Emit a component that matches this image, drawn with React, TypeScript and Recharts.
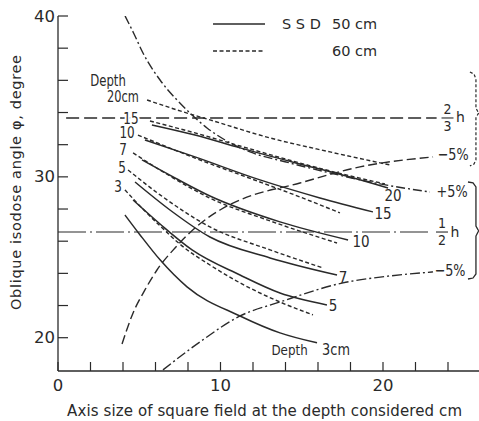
import React from 'react';
import { LineChart, Line, XAxis, YAxis, ReferenceLine, ReferenceDot } from 'recharts';

type P = { x: number; y: number };

// ---- Axis ticks ----
const xTicks = [0, 2, 4, 6, 8, 10, 12, 14, 16, 18, 20, 22, 24];
const xLabelled = [0, 10, 20];
const yTicks = [20, 22, 24, 26, 28, 30, 32, 34, 36, 38, 40];
const yLabelled = [20, 30, 40];

// ---- SSD 50 cm (solid) ----
const ssd50Depth20: P[] = [{ x: 5.78, y: 33.23 }, { x: 8.43, y: 32.6 }, { x: 11.2, y: 31.8 }, { x: 14.89, y: 30.8 }, { x: 17.97, y: 29.99 }, { x: 20.31, y: 29.31 }];
const ssd50Depth15: P[] = [{ x: 5.35, y: 32.29 }, { x: 8.43, y: 31.24 }, { x: 12.43, y: 29.81 }, { x: 16.12, y: 28.69 }, { x: 19.38, y: 27.82 }];
const ssd50Depth10: P[] = [{ x: 5.17, y: 31.05 }, { x: 7.2, y: 29.93 }, { x: 9.35, y: 28.81 }, { x: 13.66, y: 27.2 }, { x: 17.85, y: 26.08 }];
const ssd50Depth7: P[] = [{ x: 4.74, y: 29.68 }, { x: 6.89, y: 27.94 }, { x: 9.35, y: 26.26 }, { x: 13.05, y: 24.96 }, { x: 17.17, y: 23.9 }];
const ssd50Depth5: P[] = [{ x: 4.62, y: 28.56 }, { x: 6.28, y: 27.07 }, { x: 8.25, y: 25.46 }, { x: 11.2, y: 23.9 }, { x: 13.66, y: 22.78 }, { x: 16.55, y: 22.04 }];
const ssd50Depth3: P[] = [{ x: 4.12, y: 27.63 }, { x: 5.05, y: 26.39 }, { x: 6.28, y: 24.84 }, { x: 7.94, y: 23.16 }, { x: 11.2, y: 21.35 }, { x: 13.66, y: 20.3 }, { x: 15.94, y: 19.68 }];

// ---- SSD 60 cm (dashed) ----
const ssd60Depth20: P[] = [{ x: 5.48, y: 34.78 }, { x: 7.51, y: 34.1 }, { x: 9.35, y: 33.54 }, { x: 13.05, y: 32.42 }, { x: 16.74, y: 31.55 }, { x: 20.43, y: 30.74 }];
const ssd60Depth15: P[] = [{ x: 5.66, y: 33.47 }, { x: 8.43, y: 32.73 }, { x: 11.2, y: 31.92 }, { x: 14.89, y: 30.86 }, { x: 17.97, y: 30.06 }, { x: 20.12, y: 29.56 }];
const ssd60Depth10: P[] = [{ x: 4.92, y: 32.6 }, { x: 8.43, y: 31.17 }, { x: 12.43, y: 29.68 }, { x: 14.89, y: 28.75 }, { x: 17.35, y: 27.76 }];
const ssd60Depth7: P[] = [{ x: 4.62, y: 31.49 }, { x: 6.89, y: 30.05 }, { x: 9.35, y: 28.68 }, { x: 13.05, y: 27.26 }, { x: 17.17, y: 25.89 }];
const ssd60Depth5: P[] = [{ x: 4.31, y: 30.43 }, { x: 6.28, y: 28.88 }, { x: 9.35, y: 26.89 }, { x: 13.05, y: 25.46 }, { x: 16.31, y: 24.34 }];
const ssd60Depth3: P[] = [{ x: 4.12, y: 29.19 }, { x: 4.92, y: 28.32 }, { x: 6.28, y: 26.95 }, { x: 7.63, y: 25.71 }, { x: 9.35, y: 24.52 }, { x: 11.2, y: 23.41 }, { x: 13.66, y: 22.22 }, { x: 15.69, y: 21.42 }];

// ---- tolerance curves ----
const twoThirdsPlus5: P[] = [{ x: 4.13, y: 40.0 }, { x: 4.68, y: 38.88 }, { x: 5.23, y: 37.7 }, { x: 6.28, y: 36.02 }, { x: 7.32, y: 34.78 }, { x: 8.12, y: 33.97 }, { x: 9.17, y: 33.04 }, { x: 10.28, y: 32.29 }, { x: 11.82, y: 31.55 }, { x: 14.28, y: 30.86 }, { x: 16.74, y: 30.24 }, { x: 19.82, y: 29.56 }, { x: 22.89, y: 29.06 }];
const twoThirdsMinus5: P[] = [{ x: 3.94, y: 19.61 }, { x: 4.62, y: 21.54 }, { x: 5.35, y: 22.97 }, { x: 6.09, y: 24.21 }, { x: 7.2, y: 25.58 }, { x: 8.43, y: 26.82 }, { x: 9.97, y: 27.94 }, { x: 11.2, y: 28.56 }, { x: 14.89, y: 29.62 }, { x: 18.58, y: 30.62 }, { x: 23.08, y: 31.24 }];
const halfMinus5: P[] = [{ x: 6.46, y: 18.0 }, { x: 8.74, y: 19.74 }, { x: 11.2, y: 21.35 }, { x: 13.66, y: 22.22 }, { x: 17.54, y: 23.41 }, { x: 20.43, y: 23.84 }, { x: 23.08, y: 24.09 }];

// ---- reference levels ----
const twoThirdsLevel = 33.66;
const twoThirdsRange = [0.5, 23.3];
const halfLevel = 26.57;
const halfRange = [0, 23.0];

// ---- braces ----
const braceUpper: P[] = [{ x: 25.35, y: 36.52 }, { x: 25.6, y: 36.39 }, { x: 25.72, y: 36.08 }, { x: 25.72, y: 34.28 }, { x: 25.85, y: 34.03 }, { x: 25.91, y: 33.97 }, { x: 25.85, y: 33.91 }, { x: 25.72, y: 33.66 }, { x: 25.72, y: 31.05 }, { x: 25.6, y: 30.8 }, { x: 25.35, y: 30.68 }];
const braceLower: P[] = [{ x: 25.23, y: 29.68 }, { x: 25.54, y: 29.62 }, { x: 25.72, y: 29.37 }, { x: 25.72, y: 26.94 }, { x: 25.85, y: 26.7 }, { x: 25.91, y: 26.64 }, { x: 25.85, y: 26.58 }, { x: 25.72, y: 26.32 }, { x: 25.72, y: 23.96 }, { x: 25.54, y: 23.71 }, { x: 25.23, y: 23.65 }];

// ---- legend ----
const legendX = [9.54, 12.74];
const legendSolidY = 39.5;
const legendDashedY = 37.82;

// ---- text annotations ----
type Ann = { x: number; y: number; text: string; size: number; sx?: number; anchor?: string; halo?: boolean; rotate?: number; len?: number };
const leftLabels: Ann[] = [
  { x: 3.08, y: 35.96, text: 'Depth', size: 15, sx: 0.78 },
  { x: 4.0, y: 34.96, text: '20cm', size: 15, sx: 0.76 },
  { x: 4.49, y: 33.66, text: '15', size: 15, sx: 0.8, halo: true },
  { x: 4.25, y: 32.73, text: '10', size: 15, sx: 0.8 },
  { x: 4.0, y: 31.73, text: '7', size: 15, sx: 0.8 },
  { x: 3.94, y: 30.61, text: '5', size: 15, sx: 0.8 },
  { x: 3.69, y: 29.43, text: '3', size: 15, sx: 0.8 },
];
const rightLabels: Ann[] = [
  { x: 20.62, y: 28.81, text: '20', size: 16.5, sx: 0.82 },
  { x: 20.0, y: 27.69, text: '15', size: 16.5, sx: 0.82 },
  { x: 18.65, y: 25.95, text: '10', size: 16.5, sx: 0.82 },
  { x: 17.54, y: 23.77, text: '7', size: 16.5, sx: 0.82 },
  { x: 16.92, y: 21.97, text: '5', size: 16.5, sx: 0.82 },
  { x: 14.25, y: 19.23, text: 'Depth', size: 14.5, sx: 0.82 },
  { x: 17.11, y: 19.23, text: '3cm', size: 15, sx: 0.86 },
];
const percentLabels: Ann[] = [
  { x: 24.31, y: 31.36, text: '\u22125%', size: 16, sx: 0.8 },
  { x: 24.25, y: 29.06, text: '+5%', size: 16, sx: 0.8 },
  { x: 24.12, y: 24.21, text: '\u22125%', size: 16, sx: 0.8 },
];
const legendLabels: Ann[] = [
  { x: 14.98, y: 39.5, text: 'S S D', size: 14.5 },
  { x: 18.25, y: 39.5, text: '50 cm', size: 14.5 },
  { x: 18.25, y: 37.82, text: '60 cm', size: 14.5 },
];
const titles: Ann[] = [
  { x: -2.58, y: 29.65, text: 'Oblique isodose angle \u03C6, degree', size: 14.5, rotate: -90, len: 255 },
  { x: 12.71, y: 15.44, text: 'Axis size of square field at the depth considered cm', size: 15, len: 395 },
];
const fractions = [
  { x: 23.97, y: 33.66, num: '2', den: '3' },
  { x: 23.63, y: 26.57, num: '1', den: '2' },
];

const INK = '#2a2a2a';
const FONT = "'DejaVu Sans', 'Liberation Sans', sans-serif";

function center(props: any) {
  const vb = props.viewBox || { x: 0, y: 0, width: 0, height: 0 };
  return { cx: vb.x + (vb.width || 0) / 2, cy: vb.y + (vb.height || 0) / 2 };
}

const renderText = (a: Ann) => (props: any) => {
  const { cx, cy } = center(props);
  const sx = a.sx ?? 1;
  const rot = a.rotate ?? 0;
  return (
    <text
      transform={`translate(${cx},${cy}) rotate(${rot}) scale(${sx},1)`}
      x={0}
      y={0}
      textAnchor={(a.anchor as any) ?? 'middle'}
      dominantBaseline="central"
      fontSize={a.size}
      fontFamily={FONT}
      fill={INK}
      stroke={a.halo ? '#fff' : 'none'}
      strokeWidth={a.halo ? 5 : 0}
      paintOrder="stroke"
      textLength={a.len}
      lengthAdjust={a.len ? 'spacing' : undefined}
    >
      {a.text}
    </text>
  );
};

const renderFraction = (num: string, den: string) => (props: any) => {
  const { cx, cy } = center(props);
  return (
    <g fill={INK} fontFamily={FONT} fontSize={14}>
      <text x={cx} y={cy - 8.5} textAnchor="middle" dominantBaseline="central" transform={`translate(${cx * 0.1},0) scale(0.9,1)`}>{num}</text>
      <line x1={cx - 6} x2={cx + 6} y1={cy} y2={cy} stroke={INK} strokeWidth={1.1} />
      <text x={cx} y={cy + 8} textAnchor="middle" dominantBaseline="central" transform={`translate(${cx * 0.1},0) scale(0.9,1)`}>{den}</text>
      <text x={cx + 13} y={cy - 0.5} textAnchor="middle" dominantBaseline="central">h</text>
    </g>
  );
};

function XTick(props: any) {
  const { x, y, payload } = props;
  const v = payload.value;
  return (
    <g>
      <line x1={x} y1={y} x2={x} y2={y - 9} stroke={INK} strokeWidth={1.2} />
      {xLabelled.includes(v) && (
        <text x={x} y={y + 14} textAnchor="middle" dominantBaseline="central" fontSize={16.5} fontFamily={FONT} fill={INK}>
          {v}
        </text>
      )}
    </g>
  );
}

function YTick(props: any) {
  const { x, y, payload } = props;
  const v = payload.value;
  return (
    <g>
      <line x1={x} y1={y} x2={x + 10} y2={y} stroke={INK} strokeWidth={1.2} />
      {yLabelled.includes(v) && (
        <text x={x - 3} y={y} textAnchor="end" dominantBaseline="central" fontSize={16.5} fontFamily={FONT} fill={INK}>
          {v}
        </text>
      )}
    </g>
  );
}

const solidSeries = [ssd50Depth20, ssd50Depth15, ssd50Depth10, ssd50Depth7, ssd50Depth5, ssd50Depth3];
const dashedSeries = [ssd60Depth20, ssd60Depth15, ssd60Depth10, ssd60Depth7, ssd60Depth5, ssd60Depth3];

export default function App() {
  const allTexts = [...leftLabels, ...rightLabels, ...percentLabels, ...legendLabels, ...titles];
  return (
    <div style={{ position: 'absolute', left: 0, top: 0, background: '#fff' }}>
      <LineChart width={479} height={421} margin={{ top: 16, right: 0, bottom: 0, left: 0 }}>
        <XAxis
          type="number"
          dataKey="x"
          domain={[0, 25.908]}
          allowDataOverflow
          ticks={xTicks}
          interval={0}
          tickLine={false}
          tickSize={0}
          tickMargin={0}
          tick={<XTick />}
          axisLine={{ stroke: INK, strokeWidth: 1.3 }}
          height={50}
        />
        <YAxis
          type="number"
          dataKey="y"
          domain={[17.93, 40]}
          allowDataOverflow
          ticks={yTicks}
          interval={0}
          tickLine={false}
          tickSize={0}
          tickMargin={0}
          tick={<YTick />}
          axisLine={{ stroke: INK, strokeWidth: 1.3 }}
          width={58}
        />
        <ReferenceLine
          segment={[{ x: twoThirdsRange[0], y: twoThirdsLevel }, { x: twoThirdsRange[1], y: twoThirdsLevel }]}
          stroke={INK}
          strokeWidth={1.3}
          strokeDasharray="13 5"
        />
        <ReferenceLine
          segment={[{ x: halfRange[0], y: halfLevel }, { x: halfRange[1], y: halfLevel }]}
          stroke={INK}
          strokeWidth={1.2}
          strokeDasharray="28 4 2 4"
        />
        <ReferenceLine
          segment={[{ x: legendX[0], y: legendSolidY }, { x: legendX[1], y: legendSolidY }]}
          stroke={INK}
          strokeWidth={1.4}
        />
        <ReferenceLine
          segment={[{ x: legendX[0], y: legendDashedY }, { x: legendX[1], y: legendDashedY }]}
          stroke={INK}
          strokeWidth={1.4}
          strokeDasharray="4 2.5"
        />
        {solidSeries.map((d, i) => (
          <Line key={'s' + i} data={d} dataKey="y" type="monotone" stroke={INK} strokeWidth={1.5} dot={false} isAnimationActive={false} />
        ))}
        {dashedSeries.map((d, i) => (
          <Line key={'d' + i} data={d} dataKey="y" type="monotone" stroke={INK} strokeWidth={1.4} strokeDasharray="4 2.5" dot={false} isAnimationActive={false} />
        ))}
        <Line data={twoThirdsPlus5} dataKey="y" type="monotone" stroke={INK} strokeWidth={1.4} strokeDasharray="9 3 2 3" dot={false} isAnimationActive={false} />
        <Line data={twoThirdsMinus5} dataKey="y" type="monotone" stroke={INK} strokeWidth={1.4} strokeDasharray="9 4" dot={false} isAnimationActive={false} />
        <Line data={halfMinus5} dataKey="y" type="monotone" stroke={INK} strokeWidth={1.4} strokeDasharray="10 3 2 3" dot={false} isAnimationActive={false} />
        <Line data={braceUpper} dataKey="y" type="linear" stroke={INK} strokeWidth={1.2} strokeDasharray="3 2" dot={false} isAnimationActive={false} />
        <Line data={braceLower} dataKey="y" type="linear" stroke={INK} strokeWidth={1.3} dot={false} isAnimationActive={false} />
        {allTexts.map((a, i) => (
          <ReferenceDot key={'t' + i} x={a.x} y={a.y} r={0} fill="none" stroke="none" ifOverflow="visible" label={renderText(a)} />
        ))}
        {fractions.map((f, i) => (
          <ReferenceDot key={'f' + i} x={f.x} y={f.y} r={0} fill="none" stroke="none" ifOverflow="visible" label={renderFraction(f.num, f.den)} />
        ))}
      </LineChart>
    </div>
  );
}
